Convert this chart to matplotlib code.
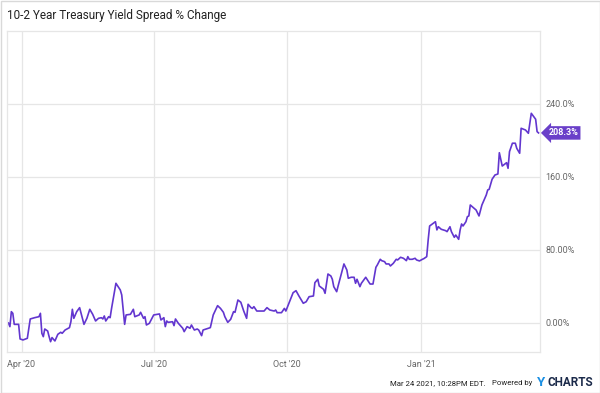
import matplotlib
matplotlib.use("Agg")
import matplotlib.pyplot as plt
import pandas as pd

dates = [
    "2020-03-23", "2020-03-24", "2020-03-25", "2020-03-26", "2020-03-27", "2020-03-30",
    "2020-03-31", "2020-04-02", "2020-04-05", "2020-04-07", "2020-04-10", "2020-04-13",
    "2020-04-14", "2020-04-15", "2020-04-16", "2020-04-17", "2020-04-19", "2020-04-20",
    "2020-04-21", "2020-04-22", "2020-04-24", "2020-04-26", "2020-04-28", "2020-04-29",
    "2020-05-01", "2020-05-04", "2020-05-05", "2020-05-06", "2020-05-07", "2020-05-09",
    "2020-05-11", "2020-05-14", "2020-05-16", "2020-05-18", "2020-05-20", "2020-05-22",
    "2020-05-24", "2020-05-26", "2020-05-27", "2020-05-28", "2020-05-29", "2020-05-31",
    "2020-06-01", "2020-06-02", "2020-06-05", "2020-06-08", "2020-06-09", "2020-06-11",
    "2020-06-12", "2020-06-15", "2020-06-17", "2020-06-18", "2020-06-21", "2020-06-22",
    "2020-06-24", "2020-06-25", "2020-06-26", "2020-06-28", "2020-07-01", "2020-07-05",
    "2020-07-06", "2020-07-08", "2020-07-09", "2020-07-10", "2020-07-11", "2020-07-14",
    "2020-07-15", "2020-07-16", "2020-07-18", "2020-07-21", "2020-07-22", "2020-07-24",
    "2020-07-26", "2020-07-27", "2020-07-29", "2020-07-31", "2020-08-01", "2020-08-03",
    "2020-08-04", "2020-08-09", "2020-08-11", "2020-08-14", "2020-08-16", "2020-08-18",
    "2020-08-19", "2020-08-21", "2020-08-23", "2020-08-25", "2020-08-26", "2020-08-28",
    "2020-08-30", "2020-09-01", "2020-09-03", "2020-09-04", "2020-09-06", "2020-09-07",
    "2020-09-08", "2020-09-10", "2020-09-15", "2020-09-17", "2020-09-19", "2020-09-22",
    "2020-09-23", "2020-09-24", "2020-09-27", "2020-09-29", "2020-09-30", "2020-10-03",
    "2020-10-05", "2020-10-07", "2020-10-09", "2020-10-12", "2020-10-14", "2020-10-16",
    "2020-10-19", "2020-10-20", "2020-10-22", "2020-10-23", "2020-10-26", "2020-10-27",
    "2020-10-29", "2020-10-31", "2020-11-01", "2020-11-02", "2020-11-04", "2020-11-05",
    "2020-11-07", "2020-11-09", "2020-11-11", "2020-11-12", "2020-11-14", "2020-11-16",
    "2020-11-17", "2020-11-18", "2020-11-20", "2020-11-21", "2020-11-23", "2020-11-24",
    "2020-11-27", "2020-11-29", "2020-12-01", "2020-12-02", "2020-12-04", "2020-12-05",
    "2020-12-07", "2020-12-08", "2020-12-10", "2020-12-11", "2020-12-13", "2020-12-15",
    "2020-12-16", "2020-12-18", "2020-12-20", "2020-12-22", "2020-12-23", "2020-12-24",
    "2020-12-26", "2020-12-28", "2020-12-29", "2020-12-31", "2021-01-02", "2021-01-03",
    "2021-01-05", "2021-01-06", "2021-01-07", "2021-01-10", "2021-01-11", "2021-01-12",
    "2021-01-13", "2021-01-15", "2021-01-18", "2021-01-19", "2021-01-21", "2021-01-22",
    "2021-01-24", "2021-01-25", "2021-01-27", "2021-01-28", "2021-01-29", "2021-01-30",
    "2021-02-01", "2021-02-02", "2021-02-03", "2021-02-04", "2021-02-08", "2021-02-10",
    "2021-02-12", "2021-02-15", "2021-02-16", "2021-02-17", "2021-02-19", "2021-02-21",
    "2021-02-23", "2021-02-24", "2021-02-26", "2021-02-27", "2021-03-01", "2021-03-02",
    "2021-03-03", "2021-03-05", "2021-03-07", "2021-03-08", "2021-03-10", "2021-03-11",
    "2021-03-14", "2021-03-16", "2021-03-18", "2021-03-21", "2021-03-22", "2021-03-23",
]
spread_change = [
    0.0, -4.0, 12.4, 10.6, -1.5, -1.5,
    -17.5, -18.6, -16.8, 4.4, 5.8, 6.9,
    10.6, -11.3, -15.0, -6.6, -8.8, -15.0,
    -20.5, -16.0, -19.7, -12.4, -10.2, -11.3,
    -7.7, -5.1, 1.4, 15.0, 5.1, 12.4,
    16.8, -1.5, 5.1, 15.0, 9.5, 2.2,
    5.1, 5.8, 4.4, 7.7, 2.2, 6.9,
    5.8, 16.0, 43.5, 36.2, 30.7, -1.5,
    8.8, 9.5, 15.0, 6.9, 8.8, 11.7,
    5.1, 6.9, -2.2, -0.4, 8.8, 9.9,
    3.3, 5.8, -4.0, 2.2, 0.7, 1.4,
    -2.9, 4.4, -0.4, -5.8, -9.5, -4.0,
    -5.8, -2.2, -7.7, -6.6, -7.7, -13.9,
    -7.7, -5.1, 8.8, 19.0, 16.0, 11.7,
    6.9, 0.7, 4.0, 12.4, 11.7, 25.2,
    22.7, 13.1, 5.1, 20.5, 16.8, 16.0,
    17.9, 13.1, 13.1, 16.8, 14.2, 13.1,
    14.2, 11.3, 11.3, 16.0, 13.1, 25.2,
    33.2, 35.4, 29.6, 21.6, 23.3, 28.8,
    29.6, 44.2, 47.9, 40.6, 36.9, 32.5,
    53.7, 51.5, 47.9, 39.8, 34.3, 40.6,
    52.6, 64.7, 58.1, 49.0, 50.1, 50.1,
    43.5, 47.9, 39.8, 43.5, 47.9, 50.1,
    42.7, 42.7, 61.0, 63.6, 69.8, 68.3,
    67.2, 64.7, 64.7, 62.5, 65.4, 69.8,
    69.1, 72.0, 70.9, 68.3, 72.7, 69.8,
    69.8, 70.9, 69.1, 68.0, 69.8, 70.5,
    72.7, 91.0, 106.3, 109.9, 111.0, 102.0,
    105.5, 102.7, 101.2, 100.1, 105.5, 100.1,
    93.9, 96.4, 91.7, 102.0, 108.5, 106.3,
    111.0, 116.5, 117.3, 129.3, 123.8, 117.3,
    129.3, 140.3, 145.8, 146.5, 157.5, 162.2,
    163.3, 186.6, 172.0, 173.2, 175.7, 169.5,
    187.8, 197.0, 197.0, 191.4, 186.0, 213.4,
    211.5, 207.9, 229.8, 223.3, 209.7, 208.3,
]

y_ticks = [0, 80, 160, 240]
y_tick_labels = ["0.00%", "80.00%", "160.0%", "240.0%"]
x_ticks = ["2020-04-01", "2020-07-01", "2020-10-01", "2021-01-01"]
x_tick_labels = ["Apr '20", "Jul '20", "Oct '20", "Jan '21"]

title = "10-2 Year Treasury Yield Spread % Change"
last_label = "208.3%"

line_color = "#6236cf"
grid_color = "#e6e6e6"
tick_color = "#666666"

plt.rcParams['font.family'] = ['Roboto', 'DejaVu Sans']

dt = pd.to_datetime(dates)

fig = plt.figure(figsize=(6.0, 3.93), dpi=100)
ax = fig.add_axes([7 / 600, 41 / 393, 533 / 600, 321 / 393])

ax.plot(dt, spread_change, color=line_color, linewidth=1.2)

ax.set_xlim(pd.Timestamp("2020-03-22"), pd.Timestamp("2021-03-24"))
ax.set_ylim(-31.8, 320)

ax.set_yticks(y_ticks)
ax.set_yticklabels(y_tick_labels)
ax.yaxis.tick_right()
ax.set_xticks(pd.to_datetime(x_ticks))
ax.set_xticklabels(x_tick_labels)
ax.tick_params(axis="both", length=0, colors=tick_color, labelsize=6.5)
ax.tick_params(axis="y", pad=4)
ax.tick_params(axis="x", pad=6)

ax.grid(True, color=grid_color, linewidth=0.9)
ax.set_axisbelow(True)
for s in ax.spines.values():
    s.set_color(grid_color)
    s.set_linewidth(0.9)

# badge with the last value
ax.annotate(last_label, xy=(1.0, spread_change[-1]), xycoords=("axes fraction", "data"),
            xytext=(6, 0), textcoords="offset points", va="center", ha="left",
            color="white", fontsize=6.5, fontweight="bold",
            bbox=dict(boxstyle="larrow,pad=0.25", fc="#6a3fc9", ec="none"))

fig.text(7 / 600, 1 - 15 / 393, title, fontsize=8.5, color="#222222",
         va="center", ha="left")

# footer
fig.text(486 / 600, 10 / 393, "Mar 24 2021, 10:28PM EDT.", fontsize=5.6,
         color="#222222", ha="right", va="center")
fig.text(532 / 600, 10 / 393, "Powered by", fontsize=5.6, color="#222222",
         ha="right", va="center")
fig.text(545 / 600, 10 / 393, "Y", fontsize=9.5, color="#1a8fe3",
         fontweight="bold", ha="right", va="center")
fig.text(593 / 600, 10 / 393, "CHARTS", fontsize=8.5, color="#1b2a4a",
         fontweight="bold", ha="right", va="center")

# light frame round the whole picture
fig.patches.append(plt.Rectangle((0.5 / 600, 0.5 / 393), 599 / 600, 392 / 393,
                                 transform=fig.transFigure, fill=False,
                                 ec="#d9d9d9", lw=1.0))

fig.savefig("out.png", dpi=100)
